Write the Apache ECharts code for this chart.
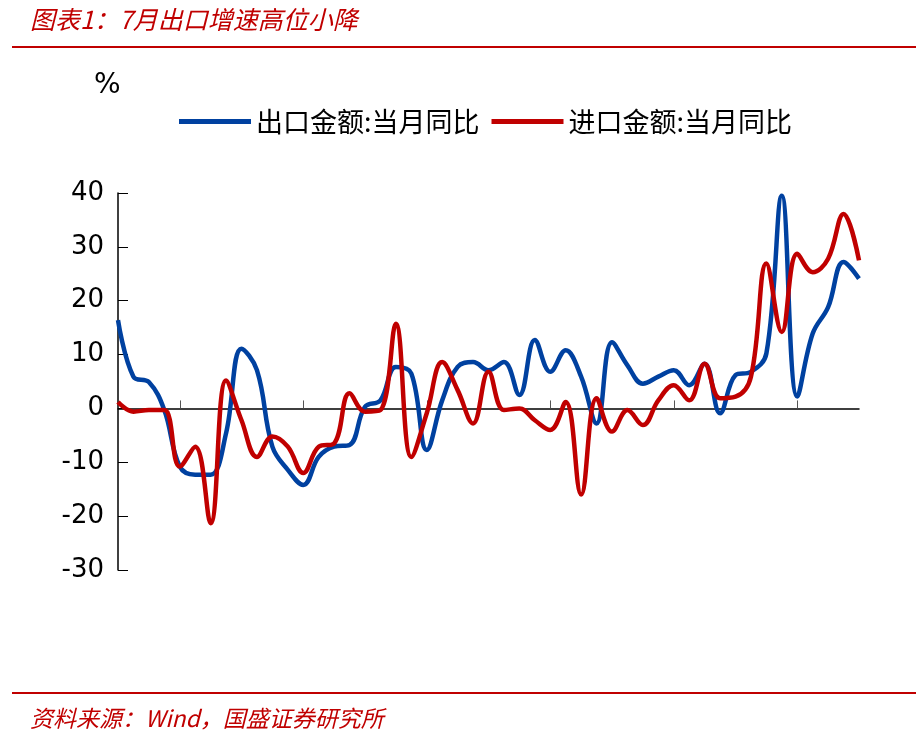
<!DOCTYPE html>
<html>
<head>
<meta charset="utf-8">
<script src="https://cdn.jsdelivr.net/npm/echarts@6/dist/echarts.min.js"></script>
<style>
  body { margin: 0; background: #fff; }
  #wrap { position: relative; width: 916px; height: 740px; }
  #chart { position: absolute; left: 0; top: 0; width: 916px; height: 740px; }
  .title { position: absolute; left: 30px; top: 0px; color: #C00000; font: italic 25px "Noto Sans CJK SC"; }
  .src { position: absolute; left: 30px; top: 700px; color: #C00000; font: italic 23px "Noto Sans CJK SC"; }
  .rule { position: absolute; left: 12px; width: 904px; height: 2px; background: #C00000; }
</style>
</head>
<body>
<div id="wrap">
  <div id="chart"></div>
  <div class="title">图表1：7月出口增速高位小降</div>
  <div class="rule" style="top:46px"></div>
  <div class="rule" style="top:692px"></div>
  <div class="src">资料来源：Wind，国盛证券研究所</div>
</div>
<script>
// 月份 22-07 ~ 26-07
const months = [];
for (let y = 22; y <= 26; y++) {
    for (let m = 1; m <= 12; m++) {
        if ((y === 22 && m < 7) || (y === 26 && m > 7)) continue;
        months.push(y + '-' + (m < 10 ? '0' + m : m));
    }
}

const exportYoY = [16.4, 5.9, 4.9, -0.3, -10.8, -12.3, -12.3, -4.6, 11.1, 7.1, -7.1, -11.4,
    -14.2, -9, -7.1, -6.8, 0.3, 1.5, 7.7, 6.5, -7.7, 1.5, 7.7, 8.6,
    7.1, 8.6, 2.5, 12.7, 6.8, 10.8, 5.9, -2.8, 12.3, 8, 4.6, 5.9,
    7.1, 4.3, 8.3, -0.9, 6.2, 6.8, 10.2, 39.5, 2.2, 13.9, 18.8, 27.2, 24.1];

const importYoY = [1.2, -0.6, -0.3, -0.3, -10.8, -7.1, -21.3, 5.2, -2.2, -9, -5.2, -7.1,
    -12, -7.1, -6.5, 2.8, -0.6, -0.3, 15.7, -9, -0.9, 8.6, 3.4, -2.8,
    6.8, -0.3, 0, -2.2, -4, 1.2, -16, 1.9, -4.3, -0.3, -3.1, 1.5,
    4.3, 1.5, 8.3, 1.9, 2.2, 5.9, 26.9, 14.2, 28.7, 25.3, 27.8, 36.1, 27.5];

const yTicks = [-30, -20, -10, 0, 10, 20, 30, 40];

const chart = echarts.init(document.getElementById('chart'));
const txt = { fontFamily: 'Verdana, "DejaVu Sans"', color: '#000' };

chart.setOption({
    animation: false,
    grid: { left: 118, right: 57, top: 193, bottom: 170, outerBoundsMode: 'none', containLabel: false },
    graphic: [{ type: 'text', left: 94, top: 72, style: { text: '%', font: '28px Verdana, "DejaVu Sans"', fill: '#000' } }],
    legend: {
        top: 103, left: 174, itemGap: 12, itemWidth: 72, itemHeight: 5,
        icon: 'rect',
        textStyle: { fontFamily: '"Noto Sans CJK SC"', fontSize: 27, color: '#000' },
        data: ['出口金额:当月同比', '进口金额:当月同比']
    },
    xAxis: {
        type: 'category',
        data: months,
        boundaryGap: false,
        axisLine: { onZero: true, lineStyle: { color: '#000', width: 1.5 } },
        axisTick: { show: true, inside: true, length: 8, interval: (i) => i % 8 === 4, lineStyle: { color: '#555' } },
        axisLabel: {
            interval: 3, rotate: 90, ...txt, fontSize: 22, margin: 182
        }
    },
    yAxis: {
        type: 'value', min: yTicks[0], max: yTicks[yTicks.length - 1], interval: 10,
        splitLine: { show: false },
        axisLine: { show: true, lineStyle: { color: '#000', width: 1.5 } },
        axisTick: { show: true, inside: true, length: 10, lineStyle: { color: '#000' } },
        axisLabel: { ...txt, fontSize: 26, margin: 14 }
    },
    series: [
        {
            name: '出口金额:当月同比', type: 'line', data: exportYoY, smooth: 0.4,
            showSymbol: false, itemStyle: { color: '#0041A0' }, lineStyle: { width: 4.5, color: '#0041A0' }
        },
        {
            name: '进口金额:当月同比', type: 'line', data: importYoY, smooth: 0.4,
            showSymbol: false, itemStyle: { color: '#C00000' }, lineStyle: { width: 4.5, color: '#C00000' }
        }
    ]
});
</script>
</body>
</html>
